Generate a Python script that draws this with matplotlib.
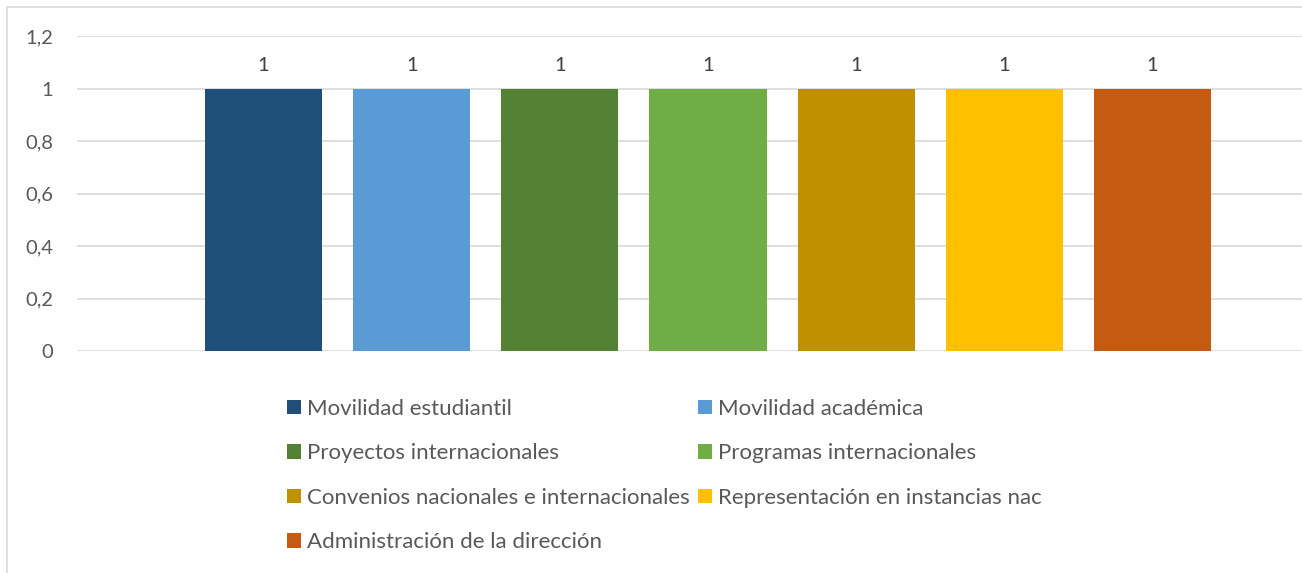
import numpy as np
import matplotlib.pyplot as plt
from matplotlib.patches import Rectangle, Patch

plt.rcParams['font.family'] = ['Lato', 'DejaVu Sans']

series = ["Movilidad estudiantil", "Movilidad académica", "Proyectos internacionales",
          "Programas internacionales", "Convenios nacionales e internacionales",
          "Representación en instancias nac", "Administración de la dirección"]
values = [1, 1, 1, 1, 1, 1, 1]
colors = ["#1f4e79", "#5b9bd5", "#548235", "#70ad47", "#bf9000", "#ffc000", "#c55a11"]
yticks = [0, 0.2, 0.4, 0.6, 0.8, 1, 1.2]
ytick_labels = ["0", "0,2", "0,4", "0,6", "0,8", "1", "1,2"]

W, H = 1302, 573
fig = plt.figure(figsize=(W / 100, H / 100), dpi=100)
fig.patches.append(Rectangle((7 / W, -0.1), 1.2, (H - 7) / H + 0.1, transform=fig.transFigure,
                             fill=False, edgecolor="#d9d9d9", linewidth=1.2))

ax = fig.add_axes([77 / W, (H - 351) / H, (W - 77) / W, (351 - 36) / H])
x = np.arange(len(series))
bars = ax.bar(x, values, width=0.79, color=colors, zorder=3)
for xi, v in zip(x, values):
    ax.text(xi, v + 0.055, f"{v}", ha="center", va="bottom", fontsize=14.5, color="#404040")

ax.set_xlim(-1.259, 7.009)
ax.set_ylim(0, 1.2)
ax.set_yticks(yticks)
ax.set_yticklabels(ytick_labels, fontsize=14.5, color="#595959")
ax.tick_params(axis="y", length=0, pad=17)
ax.set_xticks([])
ax.grid(axis="y", color="#d9d9d9", linewidth=1.2, zorder=0)
for s in ax.spines.values():
    s.set_visible(False)

# legend filled row by row like Excel
order = [0, 2, 4, 6, 1, 3, 5]
handles = [Patch(facecolor=colors[i], label=series[i]) for i in order]
fig.legend(handles=handles, ncol=2, loc="upper left", bbox_to_anchor=(287 / W, (H - 399) / H),
           frameon=False, fontsize=16, labelcolor="#595959", handlelength=0.62, handleheight=0.62,
           handletextpad=0.3, columnspacing=0.35, labelspacing=1.1, borderpad=0, borderaxespad=0)

fig.savefig("out.png", dpi=100, facecolor="white")
